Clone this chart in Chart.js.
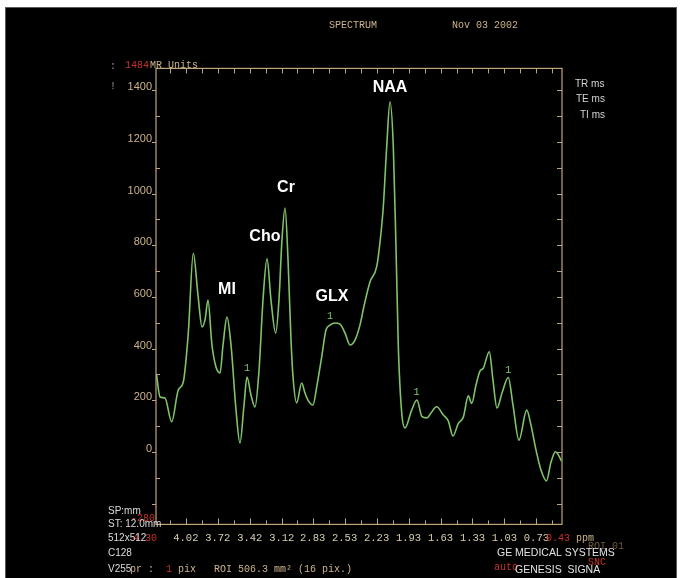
<!DOCTYPE html>
<html>
<head>
<meta charset="utf-8">
<script src="https://cdn.jsdelivr.net/npm/chart.js@4.4.0/dist/chart.umd.min.js"></script>
<style>
  html, body { margin: 0; padding: 0; background: #fff; overflow: hidden; }
  #wrap { width: 682px; height: 578px; position: relative; }
</style>
</head>
<body>
<div id="wrap"><canvas id="spec" width="682" height="578"></canvas></div>
<script>
// Chemical shift (ppm) of each sampled point of the spectrum, left to right
const ppm = [
  4.295, 4.262, 4.216, 4.153, 4.091, 4.044, 3.997, 3.950, 3.906, 3.868,
  3.840, 3.812, 3.775, 3.737, 3.699, 3.671, 3.634, 3.596, 3.549, 3.512,
  3.474, 3.446, 3.409, 3.371, 3.333, 3.296, 3.258, 3.221, 3.177, 3.146,
  3.118, 3.089, 3.061, 3.033, 3.014, 2.980, 2.933, 2.902, 2.874, 2.827,
  2.789, 2.745, 2.705, 2.667, 2.620, 2.573, 2.526, 2.479, 2.433, 2.386,
  2.348, 2.292, 2.229, 2.198, 2.167, 2.135, 2.104, 2.073, 2.048, 2.026,
  1.994, 1.963, 1.901, 1.851, 1.804, 1.757, 1.720, 1.666, 1.604, 1.557,
  1.513, 1.463, 1.416, 1.369, 1.337, 1.297, 1.260, 1.229, 1.172, 1.138,
  1.100, 1.053, 0.994, 0.950, 0.894, 0.821, 0.781, 0.734, 0.687, 0.636,
  0.593, 0.551, 0.523, 0.495
];

// Signal intensity (MR units) at each ppm value
const intensity = [
  298, 213, 209, 117, 240, 271, 460, 769, 607, 484,
  511, 588, 414, 329, 306, 414, 522, 414, 162, 35,
  182, 290, 221, 174, 317, 588, 747, 588, 460, 588,
  820, 944, 743, 433, 290, 190, 267, 228, 201, 182,
  259, 368, 472, 491, 499, 495, 460, 414, 433, 491,
  565, 658, 717, 812, 949, 1181, 1355, 1181, 794, 407,
  151, 93, 162, 201, 137, 132, 151, 175, 143, 120,
  62, 111, 135, 217, 188, 259, 313, 324, 388, 279,
  170, 228, 288, 182, 46, 162, 104, 8, -70, -112,
  -39, 1, -12, -35
];

// Axis tick labels
const yTickValues = [0, 200, 400, 600, 800, 1000, 1200, 1400];
const xTickLabels = ['4.02', '3.72', '3.42', '3.12', '2.83', '2.53', '2.23',
                     '1.93', '1.63', '1.33', '1.03', '0.73'];

// Axis range
const ppmLeft = 4.30, ppmRight = 0.49;
const yMin = -280, yMax = 1484;

// Metabolite names and where they sit (ppm, MR units)
const peakNames = ['NAA', 'Cr', 'Cho', 'MI', 'GLX'];
const peakNamePpm = [2.104, 3.080, 3.278, 3.634, 2.648];
const peakNameLevel = [1408, 1021, 832, 627, 603];

// Fitted-peak markers "1"
const fitMarkPpm = [3.446, 2.667, 1.856, 0.994];
const fitMarkLevel = [325, 523, 232, 317];

const TAN = '#bfa47c';
const TAN_TEXT = '#cdb38c';
const RED = '#c8322c';

function ppmMinorTicks() {
  const vals = xTickLabels.map(parseFloat);
  const out = [{ v: vals[0] + 0.15, major: false }];
  vals.forEach((v, i) => {
    out.push({ v, major: true });
    const next = i < vals.length - 1 ? vals[i + 1] : v - 0.30;
    out.push({ v: (v + next) / 2, major: false });
  });
  return out;
}

const screenPlugin = {
  id: 'screen',
  beforeDraw(chart) {
    const ctx = chart.ctx;
    ctx.save();
    ctx.fillStyle = '#ffffff';
    ctx.fillRect(0, 0, chart.width, chart.height);
    ctx.fillStyle = '#000000';
    ctx.fillRect(6, 8, 670, 570);
    ctx.strokeStyle = '#5a5a5a';
    ctx.lineWidth = 1;
    ctx.strokeRect(5.5, 7.5, 671, 572);
    ctx.restore();
  },
  afterDraw(chart) {
    const ctx = chart.ctx;
    const a = chart.chartArea;
    const xs = chart.scales.x, ys = chart.scales.y;
    ctx.save();

    // frame
    ctx.strokeStyle = TAN;
    ctx.lineWidth = 1.2;
    ctx.strokeRect(a.left, a.top, a.right - a.left, a.bottom - a.top);

    // horizontal axis ticks (top pointing down, bottom pointing up)
    ctx.lineWidth = 1;
    ctx.beginPath();
    ppmMinorTicks().forEach(t => {
      const px = Math.round(xs.getPixelForValue(t.v)) + 0.5;
      if (px <= a.left + 1 || px >= a.right - 1) return;
      ctx.moveTo(px, a.top); ctx.lineTo(px, a.top + 5);
      ctx.moveTo(px, a.bottom); ctx.lineTo(px, a.bottom - (t.major ? 6 : 4));
    });
    // vertical axis ticks
    for (let v = -200; v <= 1400; v += 100) {
      const py = Math.round(ys.getPixelForValue(v)) + 0.5;
      if (v % 200 === 0) {
        ctx.moveTo(a.left - 4, py); ctx.lineTo(a.left, py);
      } else {
        ctx.moveTo(a.left, py); ctx.lineTo(a.left + 4, py);
      }
      ctx.moveTo(a.right, py); ctx.lineTo(a.right - 5, py);
    }
    ctx.stroke();

    // metabolite names
    ctx.fillStyle = '#ffffff';
    ctx.font = 'bold 16px "Liberation Sans", Arial, sans-serif';
    ctx.textAlign = 'center';
    ctx.textBaseline = 'middle';
    peakNames.forEach((n, i) => {
      ctx.fillText(n, xs.getPixelForValue(peakNamePpm[i]), ys.getPixelForValue(peakNameLevel[i]));
    });

    // fit markers
    ctx.fillStyle = '#86c870';
    ctx.font = '10px "Liberation Mono", monospace';
    fitMarkPpm.forEach((p, i) => {
      ctx.fillText('1', xs.getPixelForValue(p), ys.getPixelForValue(fitMarkLevel[i]));
    });

    // range end labels
    ctx.textBaseline = 'middle';
    ctx.font = '10px "Liberation Mono", monospace';
    ctx.fillStyle = RED;
    ctx.textAlign = 'right';
    ctx.fillText(String(yMax), a.left - 7, a.top - 3);
    ctx.fillText(String(yMin), a.left - 1, a.bottom - 6);
    ctx.textAlign = 'left';
    ctx.fillText('4.30', 133, 538);
    ctx.fillText('0.43', 546, 538);
    ctx.fillStyle = TAN_TEXT;
    ctx.fillText('MR Units', a.left - 6, a.top - 3);
    ctx.fillText('ppm', 576, 538);

    // header
    ctx.fillStyle = TAN_TEXT;
    ctx.font = '10px "Liberation Mono", monospace';
    ctx.textAlign = 'left';
    ctx.fillText('SPECTRUM', 329, 25);
    ctx.fillText('Nov 03 2002', 452, 25);

    // small side marks
    ctx.fillStyle = '#9a9a9a';
    ctx.fillText(':', 110, 66);
    ctx.fillText('!', 110, 86);

    // acquisition parameters
    ctx.fillStyle = '#d4d4d4';
    ctx.font = '10px "Liberation Sans", Arial, sans-serif';
    ctx.textAlign = 'left';
    ctx.fillText('TR ms', 575, 84);
    ctx.fillText('TE ms', 576, 99);
    ctx.fillText('TI ms', 580, 115);

    // lower left info
    ctx.fillStyle = '#dcdcdc';
    ctx.font = '10px "Liberation Sans", Arial, sans-serif';
    ctx.fillText('SP:mm', 108, 511);
    ctx.fillText('ST: 12.0mm', 108, 524);
    ctx.fillText('512x512', 108, 538);
    ctx.fillText('C128', 108, 553);
    ctx.fillText('V255', 108, 569);
    ctx.font = '10px "Liberation Mono", monospace';
    ctx.fillStyle = TAN_TEXT;
    ctx.fillText('pr :', 130, 569);
    ctx.fillStyle = RED;
    ctx.fillText('1', 166, 569);
    ctx.fillStyle = TAN_TEXT;
    ctx.fillText('pix   ROI 506.3 mm\u00b2 (16 pix.)', 178, 569);

    // lower right info
    ctx.fillStyle = '#6e5a3c';
    ctx.fillText('ROI 01', 588, 546);
    ctx.fillStyle = RED;
    ctx.fillText('auto', 494, 567);
    ctx.fillText('SNC', 588, 562);
    ctx.fillStyle = '#e2e2e2';
    ctx.font = '10.5px "Liberation Sans", Arial, sans-serif';
    ctx.fillText('GE MEDICAL SYSTEMS', 497, 553);
    ctx.fillText('GENESIS  SIGNA', 515, 570);

    ctx.restore();
  }
};

new Chart(document.getElementById('spec'), {
  type: 'line',
  data: {
    datasets: [{
      data: ppm.map((p, i) => ({ x: p, y: intensity[i] })),
      borderColor: '#80c46a',
      borderWidth: 1.6,
      pointRadius: 0,
      fill: false,
      cubicInterpolationMode: 'monotone'
    }]
  },
  options: {
    responsive: false,
    animation: false,
    devicePixelRatio: 1,
    layout: { padding: { left: 0, top: 68.4, right: 120, bottom: 0 } },
    plugins: { legend: { display: false }, tooltip: { enabled: false } },
    scales: {
      x: {
        type: 'linear',
        reverse: true,
        min: ppmRight,
        max: ppmLeft,
        afterBuildTicks: s => { s.ticks = xTickLabels.map(t => ({ value: parseFloat(t) })); },
        afterFit: s => { s.height = 578 - 524.4; },
        grid: { display: false, drawTicks: false },
        border: { display: false },
        ticks: {
          color: '#d8cdb2',
          font: { family: '"Liberation Mono", monospace', size: 10.5 },
          padding: 8,
          maxRotation: 0,
          autoSkip: false,
          callback: (v, i) => xTickLabels[i]
        }
      },
      y: {
        type: 'linear',
        min: yMin,
        max: yMax,
        afterBuildTicks: s => { s.ticks = yTickValues.map(v => ({ value: v })); },
        afterFit: s => { s.width = 156; },
        grid: { display: false, drawTicks: false },
        border: { display: false },
        ticks: {
          color: TAN_TEXT,
          font: { family: '"Liberation Sans", Arial, sans-serif', size: 11 },
          padding: 4,
          labelOffset: -3,
          autoSkip: false,
          callback: v => String(v)
        }
      }
    }
  },
  plugins: [screenPlugin]
});
</script>
</body>
</html>
